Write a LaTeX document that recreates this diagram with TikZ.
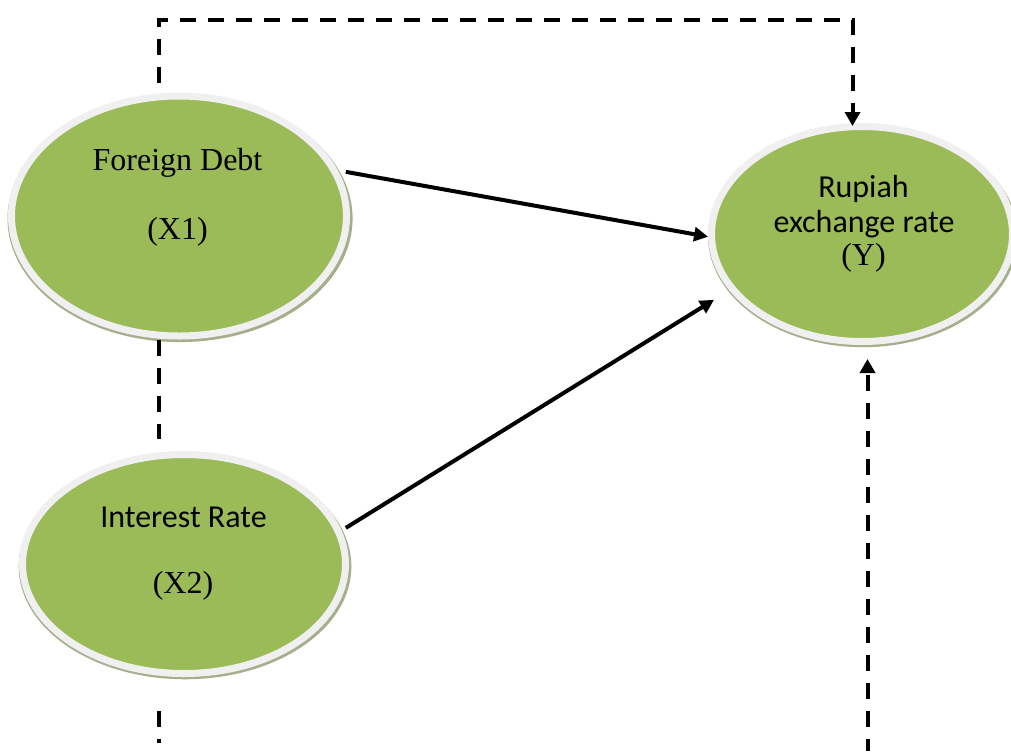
\documentclass[tikz,border=0pt]{standalone}
\usepackage{fontspec}
\setmainfont{Liberation Serif}
\newfontfamily\calibri{Carlito}
\usetikzlibrary{shapes.geometric,shadows,arrows.meta,calc}
\definecolor{vgreen}{RGB}{155,187,89}
\definecolor{ringc}{RGB}{240,240,240}
\definecolor{shadowc}{RGB}{165,175,140}
\tikzset{
  var/.style={ellipse, fill=vgreen, draw=ringc, line width=3.5pt, inner sep=0pt,
    general shadow={fill=shadowc, shadow xshift=0.5pt, shadow yshift=-1.2pt,
      shadow scale=1.03}},
  serif/.style={anchor=base, inner sep=0pt, font=\fontsize{16}{17.5}\selectfont},
  sans/.style={anchor=base, inner sep=0pt, font=\calibri\fontsize{16}{17.5}\selectfont},
  link/.style={line width=2pt, -{Triangle[length=7pt,width=7pt]}},
  dashlink/.style={line width=2pt, dash pattern=on 8pt off 6pt},
}
\begin{document}
\begin{tikzpicture}[x=0.5pt,y=-0.5pt]
\path[use as bounding box, fill=white] (0,0) rectangle (1011,751);
% variables
\node[var, minimum width=167.5pt, minimum height=120pt] (x1) at (179,216) {};
\node[var, minimum width=161.5pt, minimum height=109.5pt] (x2) at (184,564) {};
\node[var, minimum width=150.5pt, minimum height=107.5pt] (y) at (862,234) {};
% texts
\node[serif] (x1a) at (177.5,170) {Foreign Debt};
\node[serif] (x1b) at (177.5,239) {(X1)};
\node[sans] (x2a) at (183.5,527) {Interest Rate};
\node[serif] (x2b) at (183,593) {(X2)};
\node[sans] (ya) at (863.5,197) {Rupiah};
\node[sans] (yb) at (864,232) {exchange rate};
\node[serif] (yc) at (863.5,265) {(Y)};
% route coordinates
\coordinate (tl) at (159,19.5);
\coordinate (tr) at (852.5,19.5);
\coordinate (bl) at (159,743);
\coordinate (br) at (867.5,751);
% solid arrows
\draw[link, shorten <=4pt] (x1.16) -- (y.181);
\draw[link, shorten <=2.5pt, shorten >=9pt] (x2.12.5) -- (y.203);
% dashed connectors
\draw[dashlink, -{Triangle[length=7pt,width=7.5pt]}, shorten >=-1.5pt]
  ($(tl |- x1.north)+(0,-10)$) -- (tl) -- (tr) -- (tr |- y.north);
\draw[dashlink] ($(x1.south -| tl)+(0,0)$) -- ($(x2.north -| tl)+(0,-12)$);
\draw[dashlink] ($(tl |- x2.south)+(0,34)$) -- (bl);
\draw[dashlink, dash phase=2pt, -{Triangle[length=7pt,width=7.5pt]}, shorten >=7pt]
  (br) -- (br |- y.south);
\end{tikzpicture}
\end{document}
